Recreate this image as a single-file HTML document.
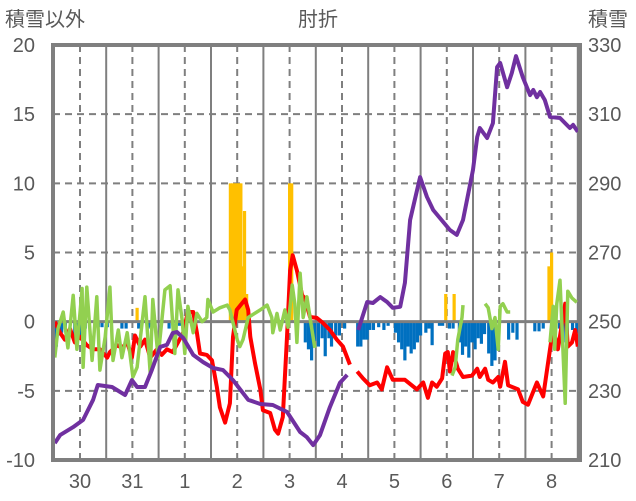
<!DOCTYPE html>
<html><head><meta charset="utf-8"><style>
html,body{margin:0;padding:0;background:#fff;width:636px;height:501px;overflow:hidden}
svg text{font-family:"Liberation Sans","Noto Sans CJK JP",sans-serif;fill:#595959}
</style></head><body>
<svg id="chart" width="636" height="501" xmlns="http://www.w3.org/2000/svg"></svg>
<script>
const dayLabels=["30","31","1","2","3","4","5","6","7","8"];
const leftTicks=[20,15,10,5,0,-5,-10];
const rightTicks=[330,310,290,270,250,230,210];
const redT=[-0.48,-0.38,-0.29,-0.19,-0.10,0,0.13,0.25,0.38,0.52,0.57,0.71,0.80,0.90,0.99,1.05,1.15,1.24,1.34,1.47,1.56,1.66,1.77,1.87,1.97,2.06,2.16,2.23,2.29,2.42,2.52,2.61,2.67,2.77,2.86,2.92,2.99,3.15,3.21,3.25,3.34,3.44,3.49,3.63,3.72,3.78,3.87,3.95,4.01,4.06,4.14,4.24,4.29,4.39,4.52,4.64,4.77,4.90,5.02,5.15,null,5.29,5.40,5.53,5.67,5.76,5.86,5.97,6.20,6.43,6.55,6.64,6.72,6.81,6.91,6.97,7.02,7.06,7.12,7.21,7.31,7.48,7.58,7.63,7.73,7.79,7.88,7.98,8.02,8.11,8.17,8.36,8.45,8.55,8.72,8.84,8.97,9.03,9.12,9.26,9.31,9.39,9.45,9.50];
const redV=[0,-0.8,-1.3,-0.5,-1.5,-1.1,-1.7,-2.0,-2.0,-2.6,-2.2,-1.7,-1.9,-1.5,-2.6,-1.0,-1.8,-1.3,-2.6,-2.0,-2.4,-2.0,-2.2,-1.5,-0.8,0.7,0.7,-0.8,-2.3,-2.4,-2.8,-4.7,-6.2,-7.3,-5.9,-1.1,0.85,1.6,0.85,-1.1,-3.0,-4.9,-6.4,-6.6,-7.8,-8.1,-6.9,-1.1,3.7,4.8,3.7,1.9,1.7,0.34,0.27,-0.1,-0.6,-1.3,-1.8,-3.1,null,-3.6,-4.1,-4.6,-4.4,-4.9,-3.3,-4.2,-4.2,-4.9,-4.4,-5.5,-4.4,-4.7,-4.1,-2.3,-2.2,-3.6,-2.2,-3.4,-4.0,-3.9,-3.4,-4.0,-3.4,-4.2,-4.4,-4.0,-4.7,-2.9,-4.6,-4.9,-5.8,-6.0,-4.4,-5.4,-2.0,-0.5,-2.0,1.3,-1.8,-1.5,-0.6,-1.8];
const greenT=[-0.48,-0.42,-0.32,-0.23,-0.13,-0.06,0.04,0.06,0.13,0.23,0.32,0.38,0.48,0.57,0.63,0.73,0.80,0.90,1.01,1.09,1.24,1.34,1.39,1.49,1.62,1.72,1.81,1.87,1.95,2.00,2.06,2.16,2.23,2.33,2.42,2.44,2.54,2.67,2.81,2.86,3.00,3.05,3.11,3.21,3.44,3.57,3.66,3.68,3.76,3.82,3.91,3.97,4.05,4.10,4.14,4.20,4.26,4.33,4.39,4.48,null,7.10,7.16,7.21,7.29,7.31,null,7.73,7.79,7.86,7.92,7.98,8.02,8.07,8.15,8.21,null,8.97,9.03,9.06,9.10,9.16,9.26,9.31,9.39,9.48];
const greenV=[-2.6,-0.5,0.7,-1.9,1.9,-2.0,2.4,-3.3,2.5,-2.8,1.8,-3.5,-1.1,2.5,-2.8,-0.6,-2.6,-0.8,-4.0,-3.3,1.8,-3.7,1.6,-2.6,2.3,2.6,-2.3,2.3,0.1,-2.3,1.1,-0.8,0.6,0,0.3,1.6,0.7,1.0,1.2,0.85,-1.3,-1.8,-1.3,0.3,0.85,1.2,0.3,-0.8,0.6,-0.6,0.85,-0.4,2.65,1.3,-1.5,3.5,0.3,1.8,0.3,-1.9,null,-3.9,-3.3,-1.3,0.3,1.2,null,1.3,1.0,-0.5,0.3,-2.0,1.1,1.3,0.7,0.7,null,-1.5,1.1,-2.0,1.3,3.0,-5.9,2.2,1.7,1.4];
const purpleT=[-0.48,-0.38,-0.13,0.06,0.25,0.34,0.61,0.86,0.99,1.09,1.24,1.37,1.53,1.66,1.77,1.85,1.97,2.16,2.35,2.54,2.73,2.92,3.21,3.44,3.68,3.95,4.20,4.33,4.45,4.58,4.77,4.96,5.10,null,5.31,5.48,5.59,5.73,5.86,5.97,6.11,6.20,6.30,6.49,6.62,6.74,7.06,7.19,7.31,7.50,7.58,7.63,7.77,7.88,7.96,8.02,8.15,8.24,8.32,8.45,8.59,8.65,8.72,8.78,8.87,8.97,9.16,9.35,9.41,9.50];
const purpleV=[214.9,217.2,219.5,221.6,227.4,231.7,231.1,228.8,233.1,231.1,231.1,236.0,242.7,243.3,246.7,247.0,245.3,240.4,238.3,236.6,236.0,233.1,227.4,226.2,225.9,223.9,218.1,216.6,214.3,217.2,225.3,232.3,234.6,null,247.6,255.7,255.4,257.1,255.7,254.0,254.3,261.2,279.4,291.8,286.1,282.3,276.5,275.1,279.4,293.9,303.4,306.0,303.1,307.4,323.6,324.8,317.8,321.9,326.8,320.7,315.5,317.0,314.9,316.4,314.1,309.2,308.9,306.0,306.9,304.9];
const blueT=[-0.50,-0.45,-0.40,-0.35,-0.28,-0.10,-0.05,0.02,0.10,0.35,0.42,0.52,0.80,0.88,1.12,1.30,1.36,1.70,1.90,4.30,4.36,4.42,4.48,4.55,4.62,4.68,4.75,4.80,4.88,4.95,5.05,5.30,5.36,5.42,5.48,5.53,5.60,5.70,5.80,5.88,6.02,6.08,6.14,6.20,6.26,6.32,6.38,6.44,6.50,6.60,6.66,6.72,6.86,6.92,7.05,7.12,7.24,7.30,7.36,7.42,7.48,7.54,7.60,7.66,7.72,7.80,7.86,7.92,8.18,8.26,8.34,8.68,8.76,8.84,9.05,9.15,9.22,9.30,9.40,9.48];
const blueV=[-1.5,-1.8,-1.0,-0.8,-0.5,-1.2,-0.8,-1.3,-0.5,-0.4,-0.4,-0.4,-0.5,-0.5,-0.5,-0.5,-0.4,-0.5,-0.3,-1.5,-2.0,-2.8,-1.4,-1.8,-1.2,-2.5,-1.2,-1.8,-1.0,-1.0,-0.5,-1.8,-1.8,-1.3,-1.3,-0.6,-0.6,-0.4,-0.6,-0.3,-0.8,-1.5,-2.0,-2.8,-1.8,-2.3,-2.0,-1.5,-1.0,-0.8,-0.5,-1.7,-0.3,-0.3,-0.5,-0.5,-1.5,-2.4,-1.8,-2.6,-1.5,-2.0,-1.2,-1.6,-0.9,-2.3,-3.2,-2.8,-1.3,-0.8,-1.3,-0.7,-0.7,-0.5,-0.8,-0.5,-1.5,-0.8,-0.6,-0.8];
const orangeT=[1.09,2.87,2.91,2.95,2.99,3.03,3.07,3.10,3.14,3.18,4.00,4.04,6.98,7.14,8.95,9.00];
const orangeV=[1.0,10,10,10,10,10,10,4,8,2,10,10,2,2,4,5];

const NS="http://www.w3.org/2000/svg";
const svg=document.getElementById('chart');
const L=53,R=580,T=45,B=460;
function xS(t){return 80+52.4*t;}
function yL(v){return T+(20-v)*(B-T)/30;}
function yR(v){return T+(330-v)*(B-T)/120;}
function mk(tag,at,parent){const e=document.createElementNS(NS,tag);for(const k in at)e.setAttribute(k,at[k]);(parent||svg).appendChild(e);return e;}

leftTicks.forEach(v=>{
  if(v===20||v===-10||v===0)return;
  const g=mk('line',{x1:L,x2:R,y1:yL(v),y2:yL(v),stroke:'#7f7f7f','stroke-width':2,'stroke-dasharray':'7,5'});
  
  
});
dayLabels.forEach((d,i)=>{
  const g=mk('line',{x1:xS(i),x2:xS(i),y1:T,y2:B,stroke:'#7f7f7f','stroke-width':2,'stroke-dasharray':'7,5'});
  
  
  const s=mk('line',{x1:xS(i+0.5),x2:xS(i+0.5),y1:T,y2:B,stroke:'#7f7f7f','stroke-width':2});
  
  
  const tx=mk('text',{x:xS(i),y:488,'font-size':20,'text-anchor':'middle'});
  tx.textContent=d;
  
  
});
const bw=3.2;
blueT.forEach((t,i)=>{
  const y0=yL(0),y1=yL(blueV[i]);
  const r=mk('rect',{x:xS(t)-bw/2,y:Math.min(y0,y1),width:bw,height:Math.abs(y1-y0),fill:'#0070c0'});
  
  
});
orangeT.forEach((t,i)=>{
  const y0=yL(0),y1=yL(orangeV[i]);
  const r=mk('rect',{x:xS(t)-bw/2,y:Math.min(y0,y1),width:bw,height:Math.abs(y1-y0),fill:'#ffc000'});
  
  
});
const z=mk('line',{x1:L,x2:R,y1:yL(0),y2:yL(0),stroke:'#7f7f7f','stroke-width':3});


function path(ts,vs,ys){let d='',pen=false;ts.forEach((t,i)=>{if(t===null||vs[i]===null){pen=false;return;}d+=(pen?'L':'M')+xS(t).toFixed(1)+','+ys(vs[i]).toFixed(1);pen=true;});return d;}
const red=mk('path',{d:path(redT,redV,yL),fill:'none',stroke:'#ff0000','stroke-width':4,'stroke-linejoin':'round'});


const green=mk('path',{d:path(greenT,greenV,yL),fill:'none',stroke:'#92d050','stroke-width':3.5,'stroke-linejoin':'round'});


const purple=mk('path',{d:path(purpleT,purpleV,yR),fill:'none',stroke:'#7030a0','stroke-width':4,'stroke-linejoin':'round'});


const f=mk('rect',{x:L,y:T,width:R-L,height:B-T,fill:'none',stroke:'#7f7f7f','stroke-width':4});


leftTicks.forEach(v=>{
  const tx=mk('text',{x:35,y:yL(v)+7,'font-size':20,'text-anchor':'end'});
  tx.textContent=v;
  
  
});
rightTicks.forEach(v=>{
  const tx=mk('text',{x:588,y:yR(v)+7,'font-size':20});
  tx.textContent=v;
  
  
});
[["積雪以外",5,'start','left-axis-title'],["肘折",318,'middle','chart-title'],["積雪",588,'start','right-axis-title']].forEach(a=>{
  const tx=mk('text',{x:a[1],y:26,'font-size':20,'text-anchor':a[2]});
  tx.textContent=a[0];
  
  
});
</script>
</body></html>
